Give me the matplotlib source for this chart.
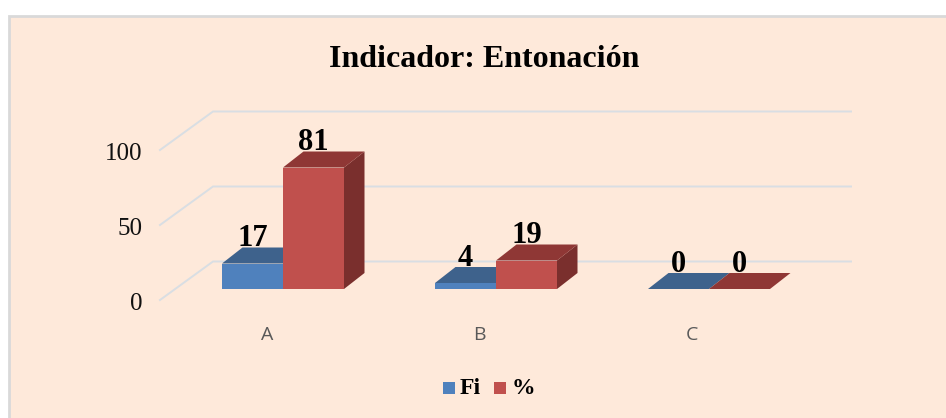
import matplotlib
matplotlib.use('Agg')
import matplotlib.pyplot as plt
from matplotlib.patches import Polygon, Rectangle

categories = ['A', 'B', 'C']
fi_values = [17, 4, 0]
pct_values = [81, 19, 0]
y_ticks = [0, 50, 100]

W, H = 946, 418
BG = '#FEE9DA'
GRID = '#D9DEE3'
SERIF = 'Liberation Serif'

# how the picture is laid out, in pixels
PX_CAT = 213.0    # distance between categories
PX_VAL = 1.5      # pixels per unit
X0, Y0 = 283.0, 289.0   # category A centre, bar base

BAR_W = 61.0 / PX_CAT
DX = 20.5 / PX_CAT
DY = 16.0 / PX_VAL

fig = plt.figure(figsize=(W / 100, H / 100), dpi=100, facecolor='white')
ax = fig.add_axes([0, 0, 1, 1])
ax.set_xlim((0 - X0) / PX_CAT, (W - X0) / PX_CAT)
ax.set_ylim((Y0 - H) / PX_VAL, Y0 / PX_VAL)
ax.axis('off')


def px(x):
    return (x - X0) / PX_CAT


def py(y):
    return (Y0 - y) / PX_VAL


# frame runs off the right and bottom of the picture
ax.add_patch(Rectangle((px(9), py(520)), 1000 / PX_CAT, 504 / PX_VAL, fc=BG, ec='#D9D9D9', lw=2, zorder=0))

# back wall and left floor lines
wall_base = py(261.5)
front_base = py(300)
for t in y_ticks:
    ax.plot([px(160), px(213), px(851)],
            [front_base + t, wall_base + t, wall_base + t],
            color=GRID, lw=1.4, zorder=1, solid_joinstyle='miter')
    ax.text(px(142), front_base + t - 2.8, str(t), ha='right', va='center',
            family=SERIF, fontsize=18, color='#111111')


def bar3d(x, v, front, top, side):
    # side first so neighbours cover it like in the original
    ax.add_patch(Polygon([(x + BAR_W, 0), (x + BAR_W + DX, DY), (x + BAR_W + DX, v + DY), (x + BAR_W, v)],
                         fc=side, ec='none', zorder=3))
    ax.add_patch(Polygon([(x, v), (x + DX, v + DY), (x + BAR_W + DX, v + DY), (x + BAR_W, v)],
                         fc=top, ec='none', zorder=3))
    if v > 0:
        ax.add_patch(Rectangle((x, 0), BAR_W, v, fc=front, ec='none', zorder=3))


for i, cat in enumerate(categories):
    bar3d(i - BAR_W, fi_values[i], '#4F81BD', '#3E628C', '#365578')
    bar3d(i, pct_values[i], '#C0504D', '#8F3735', '#7A2F2D')
    ax.text(i - BAR_W / 2, fi_values[i] + DY - 3.9, str(fi_values[i]), ha='center', va='bottom',
            family=SERIF, weight='bold', fontsize=22, color='black', zorder=5)
    ax.text(i + BAR_W / 2, pct_values[i] + DY - 3.9, str(pct_values[i]), ha='center', va='bottom',
            family=SERIF, weight='bold', fontsize=22, color='black', zorder=5)
    ax.text(px(267.5) + i * 212 / PX_CAT, py(334.5), cat, ha='center', va='center',
            family='Open Sans', fontsize=14, color='#595959')

ax.text(px(484.5), py(59.5), 'Indicador: Entonación', ha='center', va='center',
        family=SERIF, weight='bold', fontsize=23, color='black')

# legend
for sx, tx, col, lab in [(443, 460, '#4F81BD', 'Fi'), (494, 511.5, '#C0504D', '%')]:
    ax.add_patch(Rectangle((px(sx), py(394)), 12 / PX_CAT, 12 / PX_VAL, fc=col, ec='none'))
    ax.text(px(tx), py(388), lab, ha='left', va='center', family=SERIF, weight='bold', fontsize=17, color='black')

fig.savefig('out.png', dpi=100, facecolor='white')
